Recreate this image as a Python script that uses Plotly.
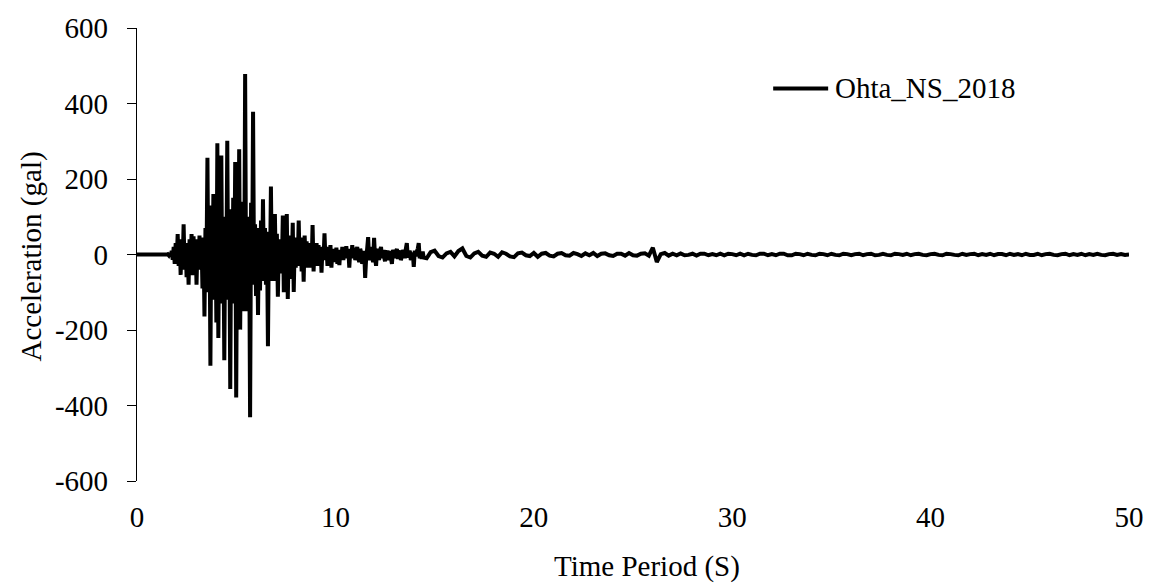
import numpy as np
import plotly.graph_objects as go

# Ohta station, NS component, 2018 record: acceleration (gal) vs time (s)

# Quiet lead-in before the first arrival
quiet_t = [0.0, 1.45]
quiet_acc = [0, 0]

# Strong motion, sampled every 0.05 s from 1.50 s to 14.45 s (gal)
strong_start, strong_step = 1.50, 0.05
strong_acc = [
    0, 1, -2, 4, -6, 10, -14, 20, -25, 30, -20, 54, -30, 40, -54, 35, -30, 80, -40, 30,
    -60, 30, -80, 40, -30, 54, -55, 48, -35, 40, -80, 30, -40, 50, -40, 42, -90, 45, -164, 70,
    -40, 256, -100, 130, -295, 130, -90, 160, -120, 140, -180, 295, -221, 120, -100, 262, -130, 90, -280, 100,
    -80, 301, -120, 110, -356, 120, -130, 150, -100, 245, -379, 110, -120, 279, -199, 130, -110, 140, -150, 478,
    -120, 100, -150, 90, -431, 137, -80, 378, -60, 80, -110, 70, -160, 60, -95, 90, -70, 146, -60, 70,
    -80, 60, -243, 60, -70, 180, -60, 50, -70, 107, -50, 55, -112, 30, -50, 40, -40, 103, -100, 40,
    -50, 107, -118, 30, -65, 50, -35, 84, -99, 35, -35, 45, -30, 90, -30, 45, -45, 30, -72, 50,
    -25, 35, -35, 25, -20, 30, -35, 78, -45, 25, -30, 30, -25, 25, -30, 15, -48, 20, -15, 56,
    -15, 20, -30, 10, -20, 25, -35, 15, -20, 10, -10, 18, -25, 5, -28, 12, -10, 20, -15, 10,
    -5, 22, -10, 15, -35, 10, -10, 25, -10, 18, -15, 5, 20, -10, -20, 15, 5, -25, -5, 10,
    -62, -10, 15, 46, -15, 5, 20, -5, -20, 44, -10, -30, 15, 5, -15, 10, 20, -10, 12, -5,
    -18, 5, 10, -15, 5, 8, -10, -25, 12, 5, -10, 8, 15, -12, 5, 10, -15, -5, 12, 5,
    -10, 15, 30, -8, 5, 10, -15, -5, 5, -33, 10, -5, 8, 15, 30, -10, 5, -12, 8, -8,
]

# Coda, sampled every 0.2 s from 14.6 s to 50.0 s (gal)
tail_start, tail_step = 14.6, 0.2
tail_acc = [
    -10, 6, 10, -4, -8, 3, 7, -5, 9, 16,
    -4, -8, 3, 7, -3, -6, 5, 2, -6, 6,
    2, -5, -7, 3, 5, -2, -4, 4, -6, 2,
    4, -3, -5, 2, 4, -2, -3, 4, 1, -4,
    3, -2, 4, -4, 2, 3, -2, -4, 2, 2,
    -3, 4, -2, -3, 2, 3, -3, 18, -20, 1,
    4, -3, 2, -2, 3, -2, -1, 2, -3, 2,
    2, -2, 1, -2, 2, -2, 2, 1, -2, 2,
    -2, 2, -1, -2, 2, 2, -2, 1, -2, 2,
    2, -2, -2, 2, 1, -2, 2, -1, -2, 2,
    1, -2, 2, -1, -2, 2, 1, -2, 1, 2,
    -2, 1, 2, -2, -1, 2, -1, -2, 2, 1,
    -1, 2, -2, 1, 2, -1, -2, 1, 2, -1,
    -2, 2, 1, -1, -2, 2, -1, 1, 2, -2,
    1, -1, 2, -2, 1, 1, -2, 2, -1, 1,
    -2, 2, -1, -1, 2, -2, 1, 2, -1, -2,
    1, 2, -2, 1, -1, 2, -2, 1, -1, 2,
    -1, -2, 1, 2, -1, 1, -1, 0,
]

y_ticks = [-600, -400, -200, 0, 200, 400, 600]
y_tick_text = ["-600", "-400", "-200", "0", "200", "400", "600"]
x_ticks = [0, 10, 20, 30, 40, 50]

series_name = "Ohta_NS_2018"
x_title = "Time Period (S)"
y_title = "Acceleration (gal)"

strong_t = strong_start + strong_step * np.arange(len(strong_acc))
tail_t = tail_start + tail_step * np.arange(len(tail_acc))
t = np.concatenate([np.array(quiet_t), strong_t, tail_t])
acc = np.concatenate([np.array(quiet_acc, dtype=float),
                      np.array(strong_acc, dtype=float),
                      np.array(tail_acc, dtype=float)])

W, H = 1156, 583
L, R, T, B = 136.5, 27, 24, 102
FONT = "Liberation Serif"
FS = 29


def px_to_paper(px, py):
    return (px - L) / (W - L - R), (H - B - py) / (H - T - B)


fig = go.Figure()
fig.add_trace(go.Scatter(
    x=t, y=acc, mode="lines", name=series_name,
    line=dict(color="black", width=4, simplify=False), showlegend=False,
))

fig.update_layout(
    width=W, height=H,
    margin=dict(l=L, r=R, t=T, b=B, pad=0),
    paper_bgcolor="white", plot_bgcolor="white",
    font=dict(family=FONT, size=FS, color="black"),
    xaxis=dict(
        range=[0, 50], tickvals=x_ticks, ticks="", showline=False,
        showgrid=False, zeroline=False, ticklabelstandoff=16,
    ),
    yaxis=dict(
        range=[-600, 600], tickvals=y_ticks, ticktext=y_tick_text,
        ticks="outside", ticklen=9, tickwidth=1.3, tickcolor="black",
        showline=True, linecolor="black", linewidth=1.3,
        showgrid=False, zeroline=False, ticklabelstandoff=13,
    ),
)

# Legend entry: line sample and label
lx0, ly = px_to_paper(773, 85)
lx1, _ = px_to_paper(828, 85)
fig.add_shape(type="line", xref="paper", yref="paper", x0=lx0, x1=lx1, y0=ly, y1=ly,
              line=dict(color="black", width=4))
tx, _ = px_to_paper(833, 85)
fig.add_annotation(xref="paper", yref="paper", x=tx, y=ly, text=series_name,
                   showarrow=False, xanchor="left", yanchor="middle",
                   font=dict(family=FONT, size=FS, color="black"))

# Axis titles
ax, ay = px_to_paper(647, 567)
fig.add_annotation(xref="paper", yref="paper", x=ax, y=ay, text=x_title,
                   showarrow=False, xanchor="center", yanchor="middle",
                   font=dict(family=FONT, size=FS, color="black"))
bx, by = px_to_paper(31, 255)
fig.add_annotation(xref="paper", yref="paper", x=bx, y=by, text=y_title, textangle=-90,
                   showarrow=False, xanchor="center", yanchor="middle",
                   font=dict(family=FONT, size=FS, color="black"))

fig.write_html("out.html")
